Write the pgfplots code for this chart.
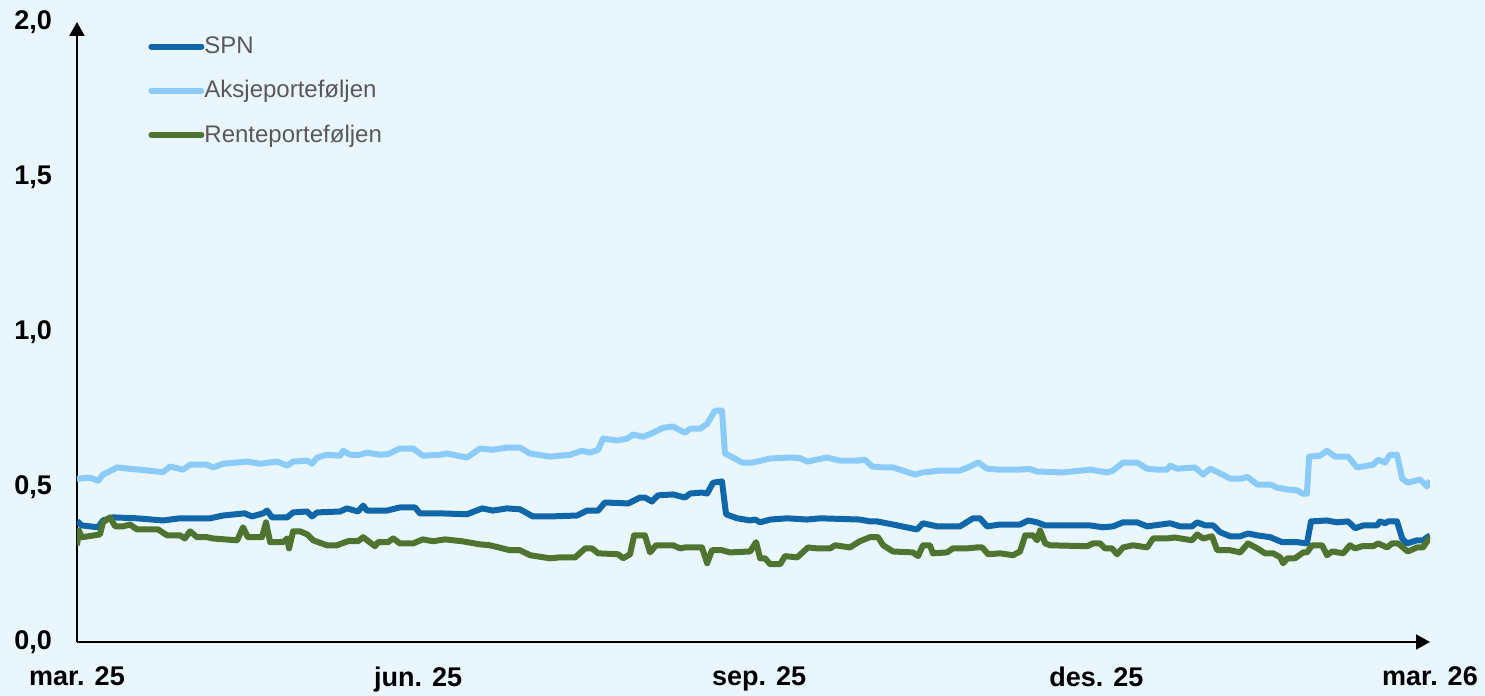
\documentclass[border=0pt]{standalone}
\usepackage{pgfplots}
\pgfplotsset{compat=1.18}
\usepackage{fontspec}
\setmainfont{Liberation Sans}
\usetikzlibrary{arrows.meta}
\definecolor{bgblue}{RGB}{233,246,254}
\definecolor{spn}{RGB}{15,103,170}
\definecolor{aksje}{RGB}{139,203,250}
\definecolor{rente}{RGB}{78,116,48}
\definecolor{legtext}{RGB}{89,89,89}

\begin{document}
\begin{tikzpicture}
\useasboundingbox (-38.5pt,-27pt) rectangle (704pt,321pt);
\fill[bgblue] (-38.5pt,-27pt) rectangle (704pt,321pt);
\begin{axis}[
    at={(0pt,0pt)}, anchor=south west,
    scale only axis, width=676.5pt, height=310pt,
    xmin=0, xmax=365, ymin=0, ymax=2,
    axis lines=left,
    axis line style={line width=1pt, -{Triangle[length=7pt,width=7.5pt]}},
    major tick length=0pt,
    xtick={0,92,184,275,365},
    xticklabels={mar. 25, jun. 25, sep. 25, des. 25, mar. 26},
    ytick={0,0.5,1,1.5,2},
    ticklabel style={font=\fontsize{13.5}{16}\selectfont\bfseries},
    xticklabel style={yshift=-9pt},
    yticklabel style={xshift=-9pt},
    /pgf/number format/.cd, use comma, fixed, fixed zerofill, precision=1, assume math mode=true,
    /pgfplots/.cd,
    legend style={at={(axis description cs:0.0525,0.977)}, anchor=north west,
        draw=none, fill=none, inner sep=0pt, row sep=12pt,
        font=\fontsize{12}{14}\selectfont, text=legtext,
        nodes={inner sep=0pt},
        /tikz/every odd column/.append style={column sep=0pt}},
    legend cell align=left,
    legend image code/.code={\draw[#1, line width=3pt, line cap=round] (0pt,0pt) -- (25pt,0pt);},
]
% SPN
\addplot[spn, line width=3pt, line join=round] coordinates {
(0,0.390) (1.3,0.376) (3.5,0.373) (5.7,0.370) (7.0,0.392) (9.7,0.402) (16.2,0.399)
(23.2,0.392) (27.8,0.399) (35.9,0.399) (39.4,0.408) (45.2,0.415) (47.2,0.405)
(50.2,0.415) (51.3,0.424) (52.6,0.402) (56.7,0.402) (58.3,0.418) (62.1,0.421)
(63.4,0.405) (64.8,0.418) (71.0,0.421) (72.8,0.431) (75.8,0.421) (77.2,0.440)
(78.2,0.424) (83.6,0.424) (87.1,0.434) (91.2,0.434) (92.5,0.415) (97.9,0.415)
(105.2,0.412) (109.3,0.431) (112.2,0.424) (116.0,0.431) (119.5,0.428) (123.0,0.405)
(127.6,0.405) (134.9,0.408) (137.6,0.424) (140.6,0.424) (142.4,0.450) (148.7,0.447)
(151.9,0.466) (153.2,0.466) (155.1,0.453) (156.7,0.473) (160.8,0.476) (164.0,0.466)
(165.4,0.479) (168.6,0.482) (170.0,0.479) (171.6,0.514) (174.0,0.518) (175.1,0.412)
(178.1,0.399) (181.6,0.392) (182.9,0.395) (184.3,0.386) (187.0,0.395) (191.6,0.399)
(197.0,0.395) (200.5,0.399) (211.2,0.395) (213.9,0.389) (215.8,0.389) (220.1,0.379)
(226.6,0.363) (228.2,0.383) (232.0,0.373) (238.2,0.373) (241.7,0.399) (243.6,0.399)
(245.5,0.373) (249.0,0.379) (254.4,0.379) (256.6,0.392) (259.0,0.386) (261.2,0.376)
(273.3,0.376) (276.8,0.370) (279.5,0.373) (282.2,0.386) (286.0,0.386) (288.7,0.373)
(294.9,0.383) (297.6,0.373) (300.8,0.373) (302.2,0.386) (304.4,0.376) (306.5,0.376)
(308.4,0.354) (311.1,0.341) (313.8,0.341) (315.9,0.350) (318.4,0.344) (321.9,0.338)
(325.1,0.322) (329.2,0.322) (331.8,0.318) (332.9,0.389) (337.2,0.392) (339.9,0.386)
(342.9,0.389) (344.8,0.367) (347.0,0.376) (350.7,0.376) (351.5,0.389) (352.9,0.383)
(353.7,0.389) (356.1,0.389) (357.5,0.334) (358.8,0.318) (361.5,0.328) (363.1,0.328)
(365.0,0.344)
};
\addlegendentry{SPN}
% Aksjeporteføljen
\addplot[aksje, line width=3pt, line join=round] coordinates {
(0,0.527) (3.5,0.530) (5.7,0.520) (7.0,0.540) (9.7,0.556) (10.8,0.563) (21.6,0.550)
(23.2,0.548) (25.1,0.566) (28.6,0.556) (30.5,0.572) (35.1,0.572) (36.7,0.563)
(39.4,0.575) (43.2,0.579) (45.9,0.582) (49.4,0.575) (54.0,0.582) (56.7,0.569)
(58.3,0.582) (62.1,0.585) (63.4,0.575) (64.8,0.595) (67.4,0.604) (71.0,0.601)
(71.8,0.617) (73.7,0.604) (76.4,0.604) (78.2,0.611) (81.7,0.604) (83.9,0.606)
(87.1,0.624) (90.7,0.624) (93.3,0.601) (97.9,0.604) (99.8,0.608) (105.2,0.595)
(108.7,0.624) (112.2,0.620) (116.0,0.627) (119.5,0.627) (122.2,0.608) (127.6,0.598)
(133.0,0.604) (136.2,0.617) (138.4,0.611) (140.6,0.620) (141.9,0.656) (145.7,0.650)
(148.4,0.656) (150.0,0.669) (152.7,0.662) (155.4,0.675) (158.1,0.691) (160.8,0.695)
(164.0,0.675) (165.4,0.688) (168.1,0.688) (170.0,0.704) (172.1,0.746) (174.0,0.746)
(174.8,0.608) (177.0,0.595) (179.4,0.579) (182.4,0.579) (187.0,0.592) (192.4,0.595)
(195.1,0.593) (197.0,0.582) (202.3,0.595) (205.9,0.585) (210.7,0.585) (212.6,0.588)
(214.5,0.566) (217.5,0.563) (220.1,0.563) (222.0,0.556) (226.1,0.540) (228.2,0.547)
(232.8,0.553) (238.2,0.553) (240.9,0.566) (243.1,0.579) (245.5,0.559) (249.0,0.556)
(253.6,0.556) (257.1,0.558) (259.0,0.550) (266.0,0.547) (273.3,0.556) (277.9,0.547)
(279.5,0.553) (282.2,0.579) (286.0,0.579) (288.7,0.559) (291.4,0.556) (294.1,0.556)
(294.9,0.569) (296.8,0.559) (301.6,0.563) (303.8,0.540) (305.7,0.559) (307.9,0.547)
(311.1,0.527) (314.3,0.527) (315.7,0.533) (318.4,0.508) (321.9,0.508) (323.8,0.498)
(326.5,0.492) (329.2,0.489) (330.5,0.479) (331.8,0.479) (332.4,0.598) (335.3,0.601)
(337.2,0.617) (339.4,0.598) (342.9,0.598) (345.3,0.563) (349.7,0.572) (351.0,0.588)
(352.9,0.579) (354.2,0.604) (356.1,0.604) (357.5,0.527) (359.0,0.514) (362.3,0.524)
(364.2,0.502) (365.0,0.521)
};
\addlegendentry{Aksjeporteføljen}
% Renteporteføljen
\addplot[rente, line width=3pt, line join=round] coordinates {
(0,0.312) (0.5,0.360) (1.3,0.338) (3.0,0.341) (6.2,0.347) (7.0,0.386) (8.9,0.402)
(10.3,0.373) (12.4,0.373) (14.3,0.379) (16.2,0.363) (21.9,0.363) (24.3,0.344)
(27.8,0.344) (29.1,0.334) (30.5,0.357) (32.4,0.338) (35.1,0.338) (36.7,0.334)
(43.2,0.328) (44.8,0.370) (46.1,0.338) (49.9,0.338) (51.0,0.386) (52.1,0.322)
(55.6,0.322) (56.7,0.334) (57.2,0.302) (58.3,0.357) (60.2,0.357) (62.1,0.347)
(63.7,0.328) (67.4,0.312) (70.1,0.312) (73.1,0.325) (75.8,0.325) (77.2,0.338)
(80.4,0.309) (81.2,0.322) (83.9,0.322) (85.3,0.334) (87.1,0.318) (90.7,0.318)
(93.3,0.331) (96.0,0.325) (99.3,0.331) (103.9,0.325) (108.7,0.315) (111.4,0.312)
(116.8,0.296) (119.5,0.296) (122.2,0.280) (127.6,0.270) (130.3,0.273) (134.4,0.273)
(137.1,0.302) (138.9,0.302) (140.6,0.286) (146.0,0.283) (147.3,0.270) (149.2,0.283)
(150.3,0.344) (153.2,0.344) (154.6,0.289) (156.2,0.312) (160.8,0.312) (162.7,0.302)
(164.0,0.305) (168.6,0.305) (170.0,0.254) (171.3,0.296) (174.0,0.296) (176.2,0.289)
(181.6,0.292) (183.2,0.322) (184.3,0.270) (185.6,0.270) (187.0,0.251) (189.7,0.251)
(191.0,0.277) (194.3,0.273) (197.2,0.305) (199.6,0.302) (203.2,0.302) (204.5,0.312)
(208.5,0.305) (211.2,0.325) (213.9,0.338) (216.1,0.338) (217.5,0.312) (220.1,0.292)
(225.5,0.289) (226.9,0.277) (228.2,0.312) (230.1,0.312) (230.9,0.286) (234.7,0.289)
(236.3,0.302) (240.1,0.302) (242.8,0.305) (244.2,0.305) (245.8,0.283) (249.0,0.286)
(252.5,0.280) (254.4,0.292) (255.8,0.344) (257.9,0.344) (259.0,0.328) (259.8,0.360)
(261.2,0.318) (262.5,0.312) (272.5,0.309) (274.1,0.318) (276.0,0.318) (277.3,0.302)
(279.2,0.302) (280.6,0.283) (282.2,0.305) (284.9,0.312) (288.7,0.305) (290.3,0.334)
(294.1,0.334) (296.2,0.337) (300.8,0.328) (302.2,0.347) (303.8,0.334) (306.2,0.341)
(307.6,0.296) (311.1,0.296) (313.8,0.289) (315.9,0.318) (318.4,0.302) (320.5,0.286)
(322.7,0.286) (324.6,0.273) (325.4,0.254) (326.5,0.270) (328.6,0.270) (330.8,0.289)
(331.8,0.289) (333.2,0.312) (335.9,0.312) (337.2,0.280) (338.6,0.292) (341.6,0.286)
(343.4,0.312) (344.8,0.302) (346.7,0.309) (349.7,0.309) (351.0,0.318) (353.4,0.305)
(354.8,0.318) (356.4,0.318) (359.0,0.292) (361.5,0.305) (363.1,0.305) (365.0,0.338)
};
\addlegendentry{Renteporteføljen}
\end{axis}
\end{tikzpicture}
\end{document}
